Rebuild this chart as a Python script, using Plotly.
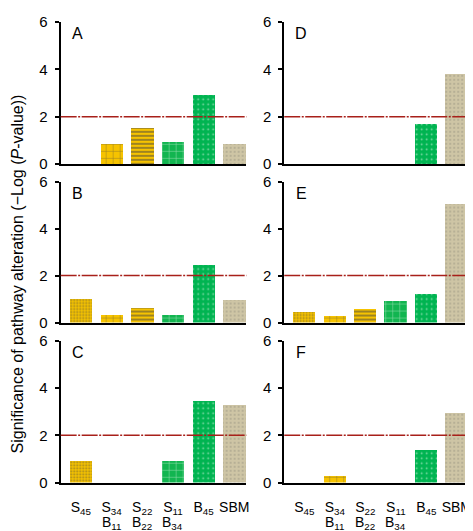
import plotly.graph_objects as go

categories = ["S45", "S34B11", "S22B22", "S11B34", "B45", "SBM"]
tick_line1 = ["S<sub>45</sub>", "S<sub>34</sub>", "S<sub>22</sub>", "S<sub>11</sub>", "B<sub>45</sub>", "SBM"]
tick_line2 = ["", "B<sub>11</sub>", "B<sub>22</sub>", "B<sub>34</sub>", "", ""]
panel_labels = ["A", "B", "C", "D", "E", "F"]
values_A = [0, 0.86, 1.51, 0.94, 2.94, 0.86]
values_B = [1.02, 0.33, 0.62, 0.36, 2.49, 0.98]
values_C = [0.94, 0, 0, 0.92, 3.47, 3.30]
values_D = [0, 0, 0, 0, 1.69, 3.80]
values_E = [0.48, 0.32, 0.60, 0.93, 1.22, 5.08]
values_F = [0, 0.27, 0, 0, 1.39, 2.97]
threshold = 2
y_ticks = [0, 2, 4, 6]

panel_values = [values_A, values_B, values_C, values_D, values_E, values_F]

# styles
bg_colors = ["#f6c300", "#f6c300", "#f6c300", "#12b550", "#00b451", "#cec5a5"]
fg_colors = ["#e6a800", "#22b04c", "#18b04a", "#f6c300", "#b0503a", "#b5ab86"]
pat_shapes = [".", "+", "-", "+", ".", "."]
pat_sizes = [3, 7, 4, 7, 5, 4]
pat_solid = [0.3, 0.15, 0.5, 0.15, 0.1, 0.08]

W, H = 473, 531
rows_px = [(5, 152), (170, 315.7), (334.5, 481)]
cols_px = [(53, 240), (278, 464)]
font_family = "Liberation Sans, Arial, sans-serif"

fig = go.Figure()
layout = dict(
    width=W, height=H, margin=dict(l=0, r=0, t=0, b=0),
    paper_bgcolor="white", plot_bgcolor="white", showlegend=False,
    font=dict(family=font_family, size=15, color="black"),
    bargap=0,
)
annotations = []
shapes = []
for i, vals in enumerate(panel_values):
    col = i // 3
    row = i % 3
    n = i + 1
    xa = "x" if n == 1 else f"x{n}"
    ya = "y" if n == 1 else f"y{n}"
    fig.add_trace(go.Bar(
        x=list(range(len(categories))), y=vals, width=0.73,
        xaxis=xa, yaxis=ya,
        marker=dict(color=bg_colors, line=dict(width=0),
                    pattern=dict(shape=pat_shapes, fgcolor=fg_colors,
                                 size=pat_sizes, solidity=pat_solid,
                                 fillmode="overlay")),
        hoverinfo="skip",
    ))
    x0, x1 = cols_px[col]
    t, b = rows_px[row]
    bottom = row == 2
    xaxis = dict(
        domain=[x0 / W, x1 / W], anchor=ya, range=[-0.66, 5.4],
        showline=True, linecolor="black", linewidth=2, ticks="",
        showticklabels=bottom, showgrid=False, zeroline=False,
    )
    if bottom:
        xaxis.update(tickvals=list(range(len(categories))), ticktext=tick_line1,
                     tickfont=dict(size=14), ticklabelstandoff=11)
    layout["xaxis" if n == 1 else f"xaxis{n}"] = xaxis
    layout["yaxis" if n == 1 else f"yaxis{n}"] = dict(
        domain=[1 - b / H, 1 - t / H], anchor=xa, range=[0, 6],
        showline=True, linecolor="black", linewidth=2,
        ticks="outside", ticklen=4, tickwidth=1.5, tickcolor="black",
        tickvals=y_ticks, showgrid=False, zeroline=False,
        tickfont=dict(size=15), ticklabelstandoff=4,
    )
    shapes.append(dict(
        type="line", xref=f"{xa} domain", yref=ya, x0=0, x1=1,
        y0=threshold, y1=threshold, layer="above",
        line=dict(color="#a8201a", width=1.5, dash="16px,1.5px,2px,1.5px"),
    ))
    annotations.append(dict(
        text=panel_labels[i], xref="paper", yref="paper",
        x=(x0 + 17) / W, y=1 - (t + 12.5) / H,
        xanchor="center", yanchor="middle", showarrow=False,
        font=dict(size=16),
    ))
    if bottom:
        for k, lab in enumerate(tick_line2):
            if lab:
                annotations.append(dict(
                    text=lab, xref=xa, yref="paper", x=k, y=1 - 522.5 / H,
                    xanchor="center", yanchor="middle", showarrow=False,
                    font=dict(size=14),
                ))

annotations.append(dict(
    text="Significance of pathway alteration (\u2212Log (<i>P</i>-value))",
    xref="paper", yref="paper", x=10 / W, y=1 - 265 / H,
    xanchor="center", yanchor="middle", textangle=-90, showarrow=False,
    font=dict(size=16),
))
layout["annotations"] = annotations
layout["shapes"] = shapes
fig.update_layout(**layout)
fig.write_html("out.html")
